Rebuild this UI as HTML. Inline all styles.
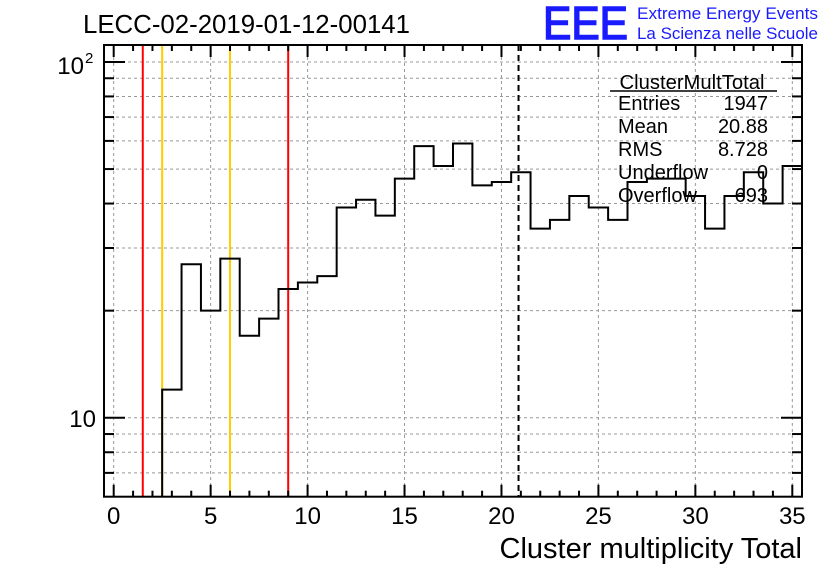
<!DOCTYPE html>
<html><head><meta charset="utf-8"><style>
body{margin:0;background:#fff;}
svg{display:block;font-family:"Liberation Sans",sans-serif;}
</style></head><body>
<svg id="c" width="836" height="572" viewBox="0 0 836 572">
<rect width="836" height="572" fill="#fff"/>
<g id="grid"></g>
<g id="lines"></g>
<g id="hist"></g>
<g id="axes"></g>
<text x="83" y="33" font-size="25.5" textLength="327" lengthAdjust="spacingAndGlyphs">LECC-02-2019-01-12-00141</text>
<text x="543" y="39" font-size="46" fill="#1a1aff" stroke="#1a1aff" stroke-width="1.5" textLength="85" lengthAdjust="spacingAndGlyphs">EEE</text>
<text x="637" y="19" font-size="17" fill="#1a1aff" textLength="181" lengthAdjust="spacingAndGlyphs">Extreme Energy Events</text>
<text x="637" y="39" font-size="17" fill="#1a1aff" textLength="181" lengthAdjust="spacingAndGlyphs">La Scienza nelle Scuole</text>
<g font-size="20">
<text x="692" y="89" text-anchor="middle" textLength="145" lengthAdjust="spacingAndGlyphs">ClusterMultTotal</text>
<line x1="610" y1="91" x2="777" y2="91" stroke="#000" stroke-width="1.5"/>
<text x="618" y="110">Entries</text><text x="768" y="110" text-anchor="end">1947</text>
<text x="618" y="133">Mean</text><text x="768" y="133" text-anchor="end">20.88</text>
<text x="618" y="156">RMS</text><text x="768" y="156" text-anchor="end">8.728</text>
<text x="618" y="179">Underflow</text><text x="768" y="179" text-anchor="end">0</text>
<text x="618" y="202">Overflow</text><text x="768" y="202" text-anchor="end">693</text>
</g>
<text x="802" y="558" font-size="29" text-anchor="end">Cluster multiplicity Total</text>
</svg>
<script>
const binCenters=[0,1,2,3,4,5,6,7,8,9,10,11,12,13,14,15,16,17,18,19,20,21,22,23,24,25,26,27,28,29,30,31,32,33,34,35];
const counts=[0,0,0,12,27,20,28,17,19,23,24,25,39,41,37,47,58,51,59,45,46,49,34,36,42,39,36,46,47,47,42,34,42,49,40,51];
const xTicks=[0,5,10,15,20,25,30,35];
const redLines=[1.5,9];
const yellowLines=[2.5,6];
const meanValue=20.88;
const X0=104,X1=802,Y0=45,Y1=496.7;
const xmin=-0.5,xmax=35.5,lmin=Math.log10(6.0),lmax=Math.log10(111.6);
const sx=v=>X0+(v-xmin)/(xmax-xmin)*(X1-X0);
const sy=v=>Y1-(Math.log10(v)-lmin)/(lmax-lmin)*(Y1-Y0);
const NS="http://www.w3.org/2000/svg";
function mk(p,t,a){const e=document.createElementNS(NS,t);for(const k in a)e.setAttribute(k,a[k]);p.appendChild(e);return e;}
const grid=document.getElementById('grid'),axes=document.getElementById('axes'),lines=document.getElementById('lines'),hist=document.getElementById('hist');
const yAll=[7,8,9,10,20,30,40,50,60,70,80,90,100];
yAll.forEach(v=>{const l=mk(grid,'line',{x1:X0,x2:X1,y1:sy(v),y2:sy(v),stroke:'#999','stroke-dasharray':'3,3','stroke-width':1});

});
xTicks.forEach(v=>{const l=mk(grid,'line',{x1:sx(v),x2:sx(v),y1:Y0,y2:Y1,stroke:'#999','stroke-dasharray':'3,3','stroke-width':1});

});
redLines.forEach(v=>{const l=mk(lines,'line',{x1:sx(v),x2:sx(v),y1:Y0,y2:Y1,stroke:'#ff0000','stroke-width':2});

});
yellowLines.forEach(v=>{const l=mk(lines,'line',{x1:sx(v),x2:sx(v),y1:Y0,y2:Y1,stroke:'#ffcc00','stroke-width':2});

});
const ml=mk(lines,'line',{x1:sx(meanValue),x2:sx(meanValue),y1:Y0,y2:Y1,stroke:'#000','stroke-width':2,'stroke-dasharray':'6,4'});


let d='',started=false;
binCenters.forEach((c,i)=>{const v=counts[i];const xl=sx(c-0.5),xr=sx(c+0.5);
 const y=v>0?Math.max(Y0,Math.min(Y1,sy(v))):Y1;
 if(!started){if(v>0){d+='M'+xl+','+Y1+'L'+xl+','+y+'L'+xr+','+y;started=true;}}
 else{d+='L'+xl+','+y+'L'+xr+','+y;}});
const hp=mk(hist,'path',{d:d,fill:'none',stroke:'#000','stroke-width':2});


const fr=mk(axes,'rect',{x:X0,y:Y0,width:X1-X0,height:Y1-Y0,fill:'none',stroke:'#000','stroke-width':2});


for(let v=0;v<=35;v++){const major=v%5===0;const len=major?12:6;
 mk(axes,'line',{x1:sx(v),x2:sx(v),y1:Y1,y2:Y1-len,stroke:'#000','stroke-width':2});
 mk(axes,'line',{x1:sx(v),x2:sx(v),y1:Y0,y2:Y0+len,stroke:'#000','stroke-width':2});}
xTicks.forEach(v=>{const t=mk(axes,'text',{x:sx(v),y:524,'font-size':24,'text-anchor':'middle'});t.textContent=String(v);

});
yAll.forEach(v=>{const major=(v===10||v===100);const len=major?21:10;
 mk(axes,'line',{x1:X0,x2:X0+len,y1:sy(v),y2:sy(v),stroke:'#000','stroke-width':2});
 mk(axes,'line',{x1:X1,x2:X1-len,y1:sy(v),y2:sy(v),stroke:'#000','stroke-width':2});});
const t10=mk(axes,'text',{x:96,y:sy(10)+9,'font-size':24,'text-anchor':'end'});t10.textContent='10';


const t100=mk(axes,'text',{x:84,y:sy(100)+12,'font-size':24,'text-anchor':'end'});t100.textContent='10';


const sup=mk(axes,'text',{x:85,y:sy(100)+1,'font-size':15});sup.textContent='2';


</script>
</body></html>
